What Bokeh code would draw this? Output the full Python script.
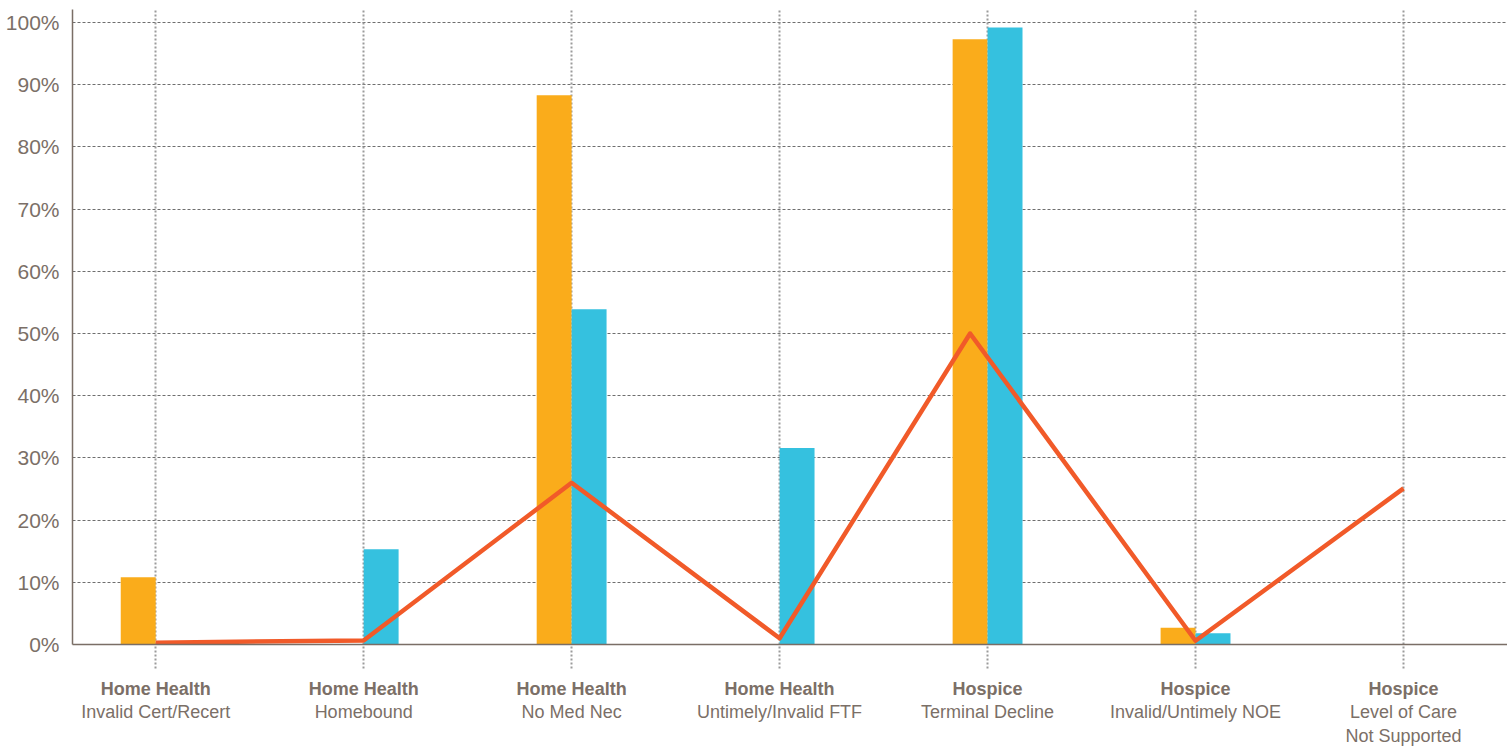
import numpy as np
from bokeh.plotting import figure
from bokeh.models import Range1d, FixedTicker, CustomJSTickFormatter, LinearAxis
from bokeh.embed import file_html
from bokeh.resources import INLINE

# ---- data ----
group_labels = ["Home Health", "Home Health", "Home Health", "Home Health",
                "Hospice", "Hospice", "Hospice"]
issue_labels = ["Invalid Cert/Recert", "Homebound", "No Med Nec", "Untimely/Invalid FTF",
                "Terminal Decline", "Invalid/Untimely NOE", "Level of Care\nNot Supported"]
orange_values = [10.8, 0, 88.3, 0, 97.3, 2.7, 0]
blue_values = [0, 15.3, 53.9, 31.6, 99.2, 1.8, 0]
line_values = [0.3, 0.65, 26.0, 1.0, 50.0, 0.6, 25.1]
y_ticks = [0, 10, 20, 30, 40, 50, 60, 70, 80, 90, 100]

# ---- style ----
ORANGE = "#FAAC1B"
BLUE = "#35C1DF"
RED = "#F15A29"
TXT = "#7B6F67"
AXIS = "#7A6E66"
BAR_W = 0.168
FONT = "Liberation Sans"
line_shift = [0, 0, 0, 0, -BAR_W / 2, 0, 0]

n = len(group_labels)
centers = np.arange(n) + 0.5

p = figure(width=1507, height=750, output_backend="svg", toolbar_location=None,
           x_range=Range1d(0.1, 7.0), y_range=Range1d(0, 102.1),
           min_border_left=72, min_border_right=0, min_border_top=9, min_border_bottom=106,
           x_axis_location=None)
p.outline_line_color = None
p.background_fill_color = "white"
p.border_fill_color = "white"

p.vbar(x=centers - BAR_W / 2, top=orange_values, width=BAR_W, fill_color=ORANGE, line_color=None)
p.vbar(x=centers + BAR_W / 2, top=blue_values, width=BAR_W, fill_color=BLUE, line_color=None)
p.line(x=centers + np.array(line_shift), y=line_values, line_color=RED, line_width=4.5,
       line_join="round")

ticker = FixedTicker(ticks=list(centers))

ax1 = LinearAxis(ticker=ticker,
                 formatter=CustomJSTickFormatter(args=dict(labels=group_labels),
                                                 code="return labels[Math.round(tick - 0.5)];"))
ax1.axis_line_color = AXIS
ax1.axis_line_width = 1.5
ax1.major_tick_out = 24
ax1.major_tick_in = 0
ax1.major_tick_line_color = "#9B9B9B"
ax1.major_tick_line_width = 2
ax1.major_tick_line_dash = "2 2"
ax1.minor_tick_line_color = None
ax1.major_label_text_font = FONT
ax1.major_label_text_font_size = "18px"
ax1.major_label_text_font_style = "bold"
ax1.major_label_text_color = TXT
ax1.major_label_standoff = 10
p.add_layout(ax1, "below")

ax2 = LinearAxis(ticker=ticker,
                 formatter=CustomJSTickFormatter(args=dict(labels=issue_labels),
                                                 code="return labels[Math.round(tick - 0.5)];"))
ax2.axis_line_color = None
ax2.major_tick_line_color = None
ax2.minor_tick_line_color = None
ax2.major_tick_out = 0
ax2.major_tick_in = 0
ax2.major_label_text_font = FONT
ax2.major_label_text_font_size = "18px"
ax2.major_label_text_color = TXT
ax2.major_label_standoff = 0
p.add_layout(ax2, "below")

p.yaxis.ticker = FixedTicker(ticks=y_ticks)
p.yaxis.formatter = CustomJSTickFormatter(code="return tick.toFixed(0) + '%';")
p.yaxis.axis_line_color = AXIS
p.yaxis.axis_line_width = 1.5
p.yaxis.major_tick_line_color = None
p.yaxis.minor_tick_line_color = None
p.yaxis.major_tick_out = 0
p.yaxis.major_tick_in = 0
p.yaxis.major_label_standoff = 13
p.yaxis.major_label_text_font = FONT
p.yaxis.major_label_text_font_size = "21px"
p.yaxis.major_label_text_color = TXT

p.ygrid.ticker = FixedTicker(ticks=y_ticks[1:])
p.ygrid.grid_line_color = "#6E6E6E"
p.ygrid.grid_line_width = 1
p.ygrid.grid_line_dash = "3 2"

p.xgrid.visible = False
from bokeh.models import Grid
xg = Grid(dimension=0, ticker=ticker, grid_line_color="#9B9B9B", grid_line_width=2,
          grid_line_dash="2 2")
p.add_layout(xg)

open("out.html", "w").write(file_html(p, INLINE))
